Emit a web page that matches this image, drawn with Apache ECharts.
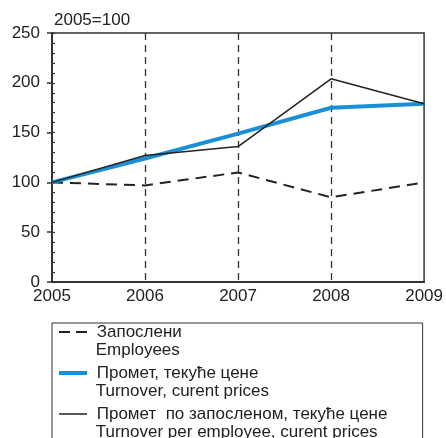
<!DOCTYPE html>
<html lang="sr">
<head>
<meta charset="UTF-8">
<title>index</title>
<style>
  html, body { margin: 0; padding: 0; background: #fff; }
  #chart { width: 446px; height: 438px; }
</style>
</head>
<body>
<div id="chart"></div>
<script src="https://cdn.jsdelivr.net/npm/echarts@6/dist/echarts.min.js"></script>
<script>
var years = ['2005', '2006', '2007', '2008', '2009'];
var employees = [100, 97, 110, 85, 100];
var turnover = [100, 124, 149, 175, 179];
var turnoverPerEmployee = [100, 127, 136, 204, 179];
// series names (Serbian) and the English second line of each legend entry
var seriesNames = ['Запослени', 'Промет, текуће цене', 'Промет  по запосленом, текуће цене'];
var englishNames = ['Employees', 'Turnover, curent prices', 'Turnover per employee, curent prices'];

var font = 'Liberation Sans, Arial, sans-serif';
var ink = '#222';
var blue = '#1b8fd6';

function englishOf(name) {
  return ' ' + englishNames[seriesNames.indexOf(name)];
}

var chart = echarts.init(document.getElementById('chart'));
var option = {
  animation: false,
  textStyle: { fontFamily: font },
  title: {
    text: '2005=100',
    left: 54, top: 12, padding: 0,
    textStyle: { fontSize: 17, fontWeight: 'normal', color: ink, fontFamily: font }
  },
  grid: {
    left: 52, right: 21, top: 33, bottom: 156,
    show: true, borderColor: '#333', borderWidth: 1.5, backgroundColor: 'transparent'
  },
  legend: [{
    // first line + line sample
    orient: 'vertical',
    left: 52, top: 323, height: 200,
    padding: [0, 0, 0, 5],
    itemGap: 23, itemWidth: 28, itemHeight: 12,
    selectedMode: false,
    itemStyle: { opacity: 0 },
    formatter: function (name) { return ' ' + name; },
    data: [
      { name: seriesNames[0], lineStyle: { color: ink, width: 2, type: [11, 6] } },
      { name: seriesNames[1], lineStyle: { color: blue, width: 4, type: 'solid' } },
      { name: seriesNames[2], lineStyle: { color: ink, width: 1.5, type: 'solid' } }
    ],
    textStyle: { fontSize: 17, color: ink, fontFamily: font, lineHeight: 18 }
  }, {
    // english second line, draws the box
    orient: 'vertical',
    left: 52, top: 323, height: 200,
    padding: [18, 45, 20, 5],
    itemGap: 23, itemWidth: 28, itemHeight: 12,
    borderColor: '#333', borderWidth: 1,
    selectedMode: false,
    itemStyle: { opacity: 0 },
    lineStyle: { opacity: 0 },
    formatter: englishOf,
    data: seriesNames,
    textStyle: { fontSize: 17, color: ink, fontFamily: font, lineHeight: 18 }
  }],
  xAxis: {
    type: 'category',
    data: years,
    boundaryGap: false,
    axisLine: { lineStyle: { color: '#333', width: 2 } },
    axisTick: { show: false },
    axisLabel: { color: ink, fontSize: 17, margin: 6, fontFamily: font },
    splitLine: {
      show: true,
      interval: function (i) { return i > 0 && i < years.length - 1; },
      lineStyle: { color: '#333', width: 1.3, type: [7, 5] }
    }
  },
  yAxis: [{
    type: 'value',
    min: 0, max: 250, interval: 50,
    axisLine: { show: true, lineStyle: { color: '#333', width: 2 } },
    axisTick: { show: true, length: 5, lineStyle: { color: '#333', width: 1.5 } },
    axisLabel: { color: ink, fontSize: 17, margin: 12, fontFamily: font },
    splitLine: { show: false }
  }, {
    type: 'value',
    position: 'left',
    min: 0, max: 250, interval: 10,
    axisLine: { show: false },
    axisTick: { show: true, inside: true, length: 3, lineStyle: { color: '#333', width: 1.2 } },
    axisLabel: { show: false },
    splitLine: { show: false }
  }],
  series: [{
    name: seriesNames[0],
    type: 'line',
    data: employees,
    symbol: 'none',
    color: ink,
    lineStyle: { color: ink, width: 2, type: [11, 7] }
  }, {
    name: seriesNames[1],
    type: 'line',
    data: turnover,
    symbol: 'none',
    color: blue,
    z: 3,
    lineStyle: { color: blue, width: 4 }
  }, {
    name: seriesNames[2],
    type: 'line',
    data: turnoverPerEmployee,
    symbol: 'none',
    color: ink,
    z: 4,
    lineStyle: { color: ink, width: 1.5 }
  }]
};
chart.setOption(option);
</script>
</body>
</html>
